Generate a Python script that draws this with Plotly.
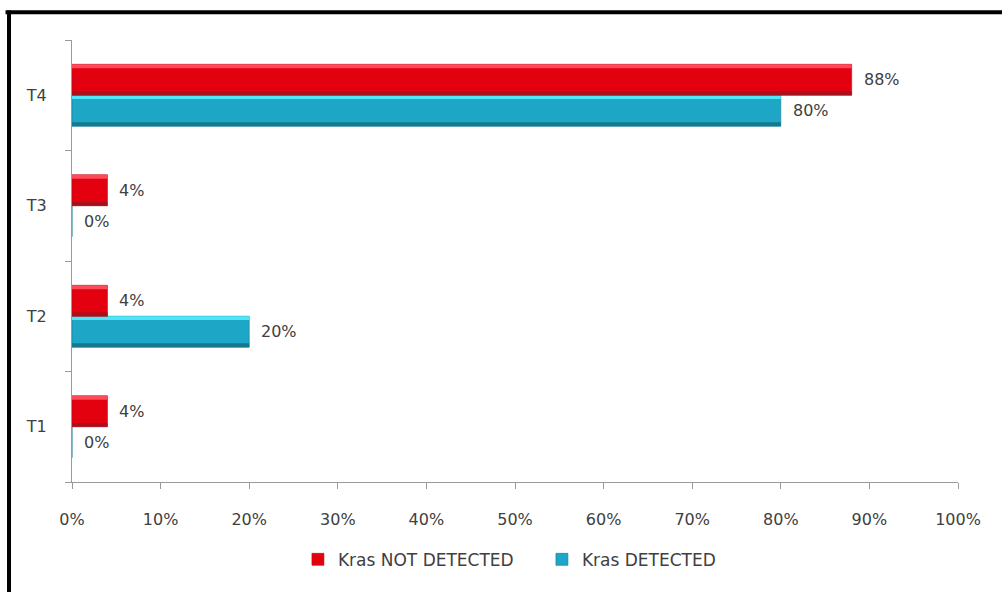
import plotly.graph_objects as go

# T-stage categories (bottom to top on the axis)
stages = ["T1", "T2", "T3", "T4"]
# Share of patients per stage
not_detected = [0.04, 0.04, 0.04, 0.88]
detected = [0.00, 0.20, 0.00, 0.80]

series = [
    # name, values, base colour, highlight, shade, offset of bar within the band
    ("Kras DETECTED", detected, "#1ea6c6", "#4fe6fa", "#16788f", -0.28),
    ("Kras NOT DETECTED", not_detected, "#e3000f", "#ff4a5a", "#a8101c", 0.0),
]

BAR_W = 0.28
STRIP = 0.035
FONT = "DejaVu Sans"
TXT = "#404040"

fig = go.Figure()
for name, vals, base, hi, lo, off in series:
    # main bar body
    fig.add_trace(go.Bar(
        name=name, y=stages, x=vals, orientation="h",
        offset=off, width=BAR_W,
        marker=dict(color=base, line=dict(color=lo, width=0.6)),
        showlegend=True, hoverinfo="x+y",
    ))
    # bevel: lighter upper edge and darker lower edge
    fig.add_trace(go.Bar(
        y=stages, x=vals, orientation="h",
        offset=off + BAR_W - STRIP, width=STRIP,
        marker=dict(color=hi, line=dict(width=0)),
        showlegend=False, hoverinfo="skip",
    ))
    fig.add_trace(go.Bar(
        y=stages, x=vals, orientation="h",
        offset=off, width=STRIP,
        marker=dict(color=lo, line=dict(width=0)),
        showlegend=False, hoverinfo="skip",
    ))

# value labels next to each bar
annotations = []
for name, vals, base, hi, lo, off in series:
    shift = 15.5 if off == 0.0 else -15.5
    for cat, v in zip(stages, vals):
        annotations.append(dict(
            x=v, y=cat, xref="x", yref="y", text=f"{v:.0%}",
            xanchor="left", yanchor="middle", xshift=10, yshift=shift,
            showarrow=False, font=dict(family=FONT, size=16, color=TXT),
        ))

fig.update_layout(
    width=1002, height=592,
    margin=dict(l=72, r=44, t=40, b=110),
    paper_bgcolor="white", plot_bgcolor="white",
    barmode="overlay",
    font=dict(family=FONT, size=16, color=TXT),
    annotations=annotations,
    legend=dict(
        orientation="h", x=0.255, xanchor="left", y=-0.176, yanchor="middle",
        traceorder="reversed", font=dict(family=FONT, size=17, color=TXT),
        itemwidth=30, entrywidth=199, entrywidthmode="pixels",
    ),
    xaxis=dict(
        range=[0, 1], dtick=0.1, tickformat=".0%", showgrid=False,
        zeroline=False, showline=True, linecolor="#9a9a9a", linewidth=1,
        ticks="outside", ticklen=6, tickcolor="#9a9a9a",
        ticklabelstandoff=17, fixedrange=True,
    ),
    yaxis=dict(
        type="category", categoryorder="array", categoryarray=stages,
        range=[-0.5, 3.5], showgrid=False, zeroline=False,
        showline=True, linecolor="#9a9a9a", linewidth=1,
        ticks="outside", ticklen=6, tickcolor="#9a9a9a",
        tickson="boundaries", ticklabelstandoff=21, fixedrange=True,
    ),
    shapes=[
        # dark frame along the top and left edges
        dict(type="line", xref="paper", yref="paper",
             x0=-0.075, x1=1.06, y0=1.063, y1=1.063,
             line=dict(color="black", width=4)),
        dict(type="line", xref="paper", yref="paper",
             x0=-0.0711, x1=-0.0711, y0=-0.3, y1=1.067,
             line=dict(color="black", width=4)),
    ],
)

fig.write_html("out.html")
